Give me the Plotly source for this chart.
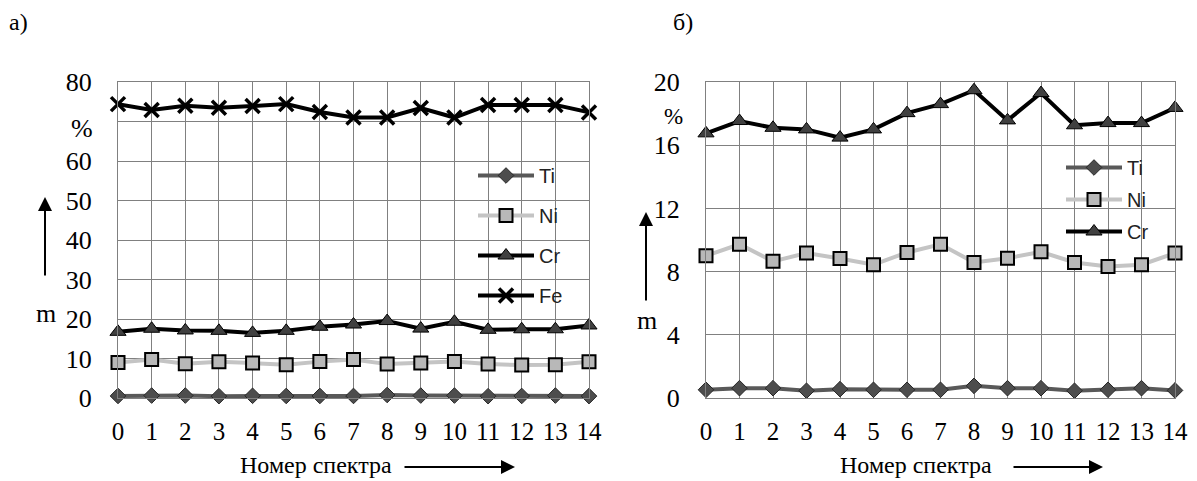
import plotly.graph_objects as go

W, H = 1197, 481

spectra = list(range(15))
ti = [0.52, 0.62, 0.62, 0.46, 0.56, 0.52, 0.52, 0.52, 0.77, 0.62, 0.62, 0.46, 0.52, 0.62, 0.48]
ni = [9.0, 9.73, 8.65, 9.17, 8.83, 8.44, 9.21, 9.73, 8.58, 8.85, 9.25, 8.58, 8.33, 8.44, 9.17]
cr = [16.75, 17.53, 17.1, 17.0, 16.48, 17.0, 18.03, 18.6, 19.48, 17.57, 19.3, 17.26, 17.4, 17.4, 18.36]
fe = [74.4, 72.9, 74.0, 73.5, 73.9, 74.4, 72.4, 71.0, 71.0, 73.4, 71.0, 74.2, 74.2, 74.2, 72.3]

yticks_a = [0, 10, 20, 30, 40, 50, 60, 70, 80]
yticktext_a = ["0", "10", "20", "30", "40", "50", "60", "", "80"]
yticks_b = [0, 4, 8, 12, 16, 20]

SERIF = "Liberation Serif, Times New Roman, serif"
SANS = "Liberation Sans Narrow, Arial Narrow, Liberation Sans, Arial, sans-serif"


def px(x):
    return x / W


def py(y):
    return 1 - y / H


styles = {
    "Ti": dict(line=dict(color="#595959", width=4),
               marker=dict(symbol="diamond", size=12, color="#4d4d4d", line=dict(color="#262626", width=1))),
    "Ni": dict(line=dict(color="#c4c4c4", width=4),
               marker=dict(symbol="square", size=13, color="#b8b8b8", line=dict(color="#000000", width=2))),
    "Cr": dict(line=dict(color="#000000", width=4),
               marker=dict(symbol="triangle-up", size=14, color="#404040", line=dict(color="#000000", width=1))),
    "Fe": dict(line=dict(color="#000000", width=4),
               marker=dict(symbol="x-thin", size=14, color="#000000", line=dict(color="#000000", width=3.5))),
}

fig = go.Figure()

series_a = [("Ti", ti), ("Ni", ni), ("Cr", cr), ("Fe", fe)]
for name, vals in series_a:
    fig.add_trace(go.Scatter(x=spectra, y=vals, name=name, mode="lines+markers",
                             xaxis="x", yaxis="y", legend="legend", legendgroup="a" + name,
                             cliponaxis=False, **styles[name]))

series_b = [("Ti", ti), ("Ni", ni), ("Cr", cr)]
for name, vals in series_b:
    fig.add_trace(go.Scatter(x=spectra, y=vals, name=name, mode="lines+markers",
                             xaxis="x2", yaxis="y2", legend="legend2", legendgroup="b" + name,
                             cliponaxis=False, **styles[name]))

grid = "#808080"
xcommon = dict(tickvals=spectra, ticktext=[str(s) for s in spectra], showgrid=True, gridcolor=grid,
               gridwidth=1, showline=True, mirror=True, linecolor=grid, linewidth=1, zeroline=False,
               tickfont=dict(family=SERIF, size=25, color="black"), ticks="", ticklabelstandoff=11,
               fixedrange=True, automargin=False)
ycommon = dict(showgrid=True, gridcolor=grid, gridwidth=1, showline=True, mirror=True, linecolor=grid,
               linewidth=1, zeroline=False, tickfont=dict(family=SERIF, size=26, color="black"),
               ticks="", ticklabelstandoff=20, fixedrange=True, automargin=False)

fig.update_layout(
    width=W, height=H,
    margin=dict(l=0, r=0, t=0, b=0, pad=0, autoexpand=False),
    paper_bgcolor="white", plot_bgcolor="white",
    xaxis=dict(domain=[px(118), px(589)], range=[0, 14], anchor="y", **xcommon),
    yaxis=dict(domain=[py(398), py(82)], range=[0, 80], tickvals=yticks_a, ticktext=yticktext_a,
               anchor="x", **ycommon),
    xaxis2=dict(domain=[px(706), px(1175)], range=[0, 14], anchor="y2", **xcommon),
    yaxis2=dict(domain=[py(398), py(82)], range=[0, 20], tickvals=yticks_b,
                ticktext=[str(v) for v in yticks_b], anchor="x2", **ycommon),
    legend=dict(x=px(473), y=py(156), xanchor="left", yanchor="top", bgcolor="rgba(0,0,0,0)",
                font=dict(family=SANS, size=20, color="#222222"), tracegroupgap=11, itemwidth=56),
    legend2=dict(x=px(1061), y=py(148), xanchor="left", yanchor="top", bgcolor="rgba(0,0,0,0)",
                 font=dict(family=SANS, size=20, color="#222222"), tracegroupgap=3, itemwidth=56),
    showlegend=True,
)

# white legend backgrounds (hide gridlines behind the legends)
fig.add_shape(type="rect", xref="paper", yref="paper", x0=px(463), x1=px(588.5), y0=py(305), y1=py(162),
              fillcolor="white", line=dict(width=0), layer="between")
fig.add_shape(type="rect", xref="paper", yref="paper", x0=px(1056), x1=px(1172), y0=py(247), y1=py(147),
              fillcolor="white", line=dict(width=0), layer="between")

ann = []


def text(x, y, t, size=26):
    ann.append(dict(x=px(x), y=py(y), xref="paper", yref="paper", text=t, showarrow=False,
                    font=dict(family=SERIF, size=size, color="black"), xanchor="center", yanchor="middle"))


def arrow(x0, y0, x1, y1):
    ann.append(dict(x=px(x1), y=py(y1), ax=x0 - x1, ay=y0 - y1, xref="paper", yref="paper",
                    axref="pixel", ayref="pixel", text="", showarrow=True, arrowhead=2,
                    arrowsize=1.4, arrowwidth=2, arrowcolor="black"))


text(18, 22, "а)", 24)
text(683, 22, "б)", 24)
text(82, 128, "%")
text(673, 116, "%", 23)
text(46, 313, "m")
text(647, 320, "m")
text(316, 465, "Номер спектра", 24)
text(916, 465, "Номер спектра", 24)
arrow(403, 467, 515, 467)
arrow(1012, 467, 1103, 467)
arrow(45, 277, 45, 197)
arrow(646, 302, 646, 212)

fig.update_layout(annotations=ann)

fig.write_html("out.html")
